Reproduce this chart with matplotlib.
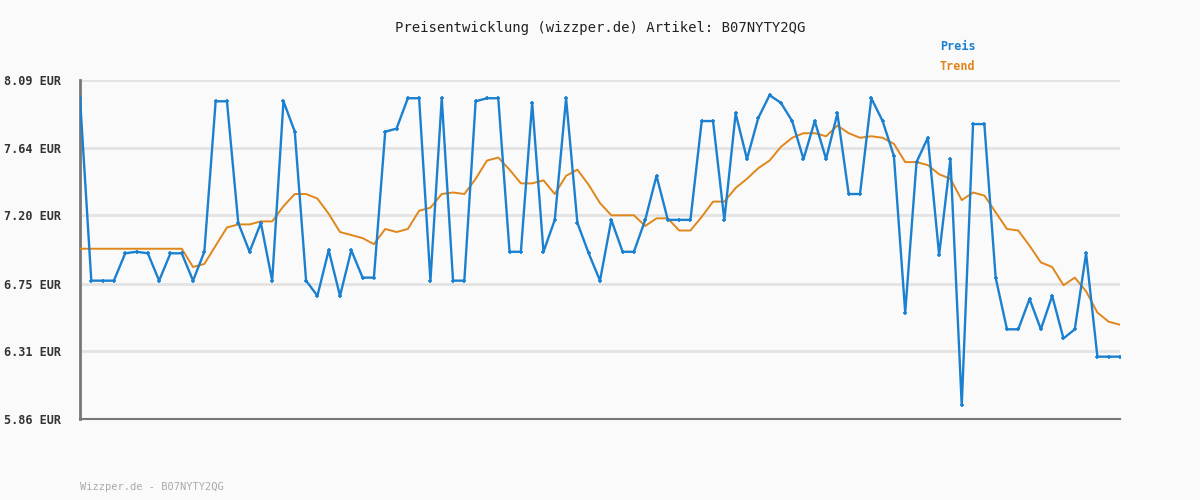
import matplotlib
matplotlib.use("Agg")
import matplotlib.pyplot as plt

# Preis / Trend values
preis = [7.97, 6.77, 6.77, 6.77, 6.95, 6.96, 6.95, 6.77, 6.95, 6.95,
         6.77, 6.96, 7.95, 7.95, 7.15, 6.96, 7.15, 6.77, 7.95, 7.75,
         6.77, 6.67, 6.97, 6.67, 6.97, 6.79, 6.79, 7.75, 7.77, 7.97,
         7.97, 6.77, 7.97, 6.77, 6.77, 7.95, 7.97, 7.97, 6.96, 6.96,
         7.94, 6.96, 7.17, 7.97, 7.15, 6.95, 6.77, 7.17, 6.96, 6.96,
         7.17, 7.46, 7.17, 7.17, 7.17, 7.82, 7.82, 7.17, 7.87, 7.57,
         7.84, 7.99, 7.94, 7.82, 7.57, 7.82, 7.57, 7.87, 7.34, 7.34,
         7.97, 7.82, 7.59, 6.56, 7.55, 7.71, 6.94, 7.57, 5.95, 7.80,
         7.80, 6.79, 6.45, 6.45, 6.65, 6.45, 6.67, 6.39, 6.45, 6.95,
         6.27, 6.27, 6.27]
trend = [6.98] * 10 + [
         6.86, 6.88, 7.00, 7.12, 7.14, 7.14, 7.16, 7.16, 7.26, 7.34,
         7.34, 7.31, 7.21, 7.09, 7.07, 7.05, 7.01, 7.11, 7.09, 7.11,
         7.23, 7.25, 7.34, 7.35, 7.34, 7.44, 7.56, 7.58, 7.50, 7.41,
         7.41, 7.43, 7.34, 7.46, 7.50, 7.40, 7.28, 7.20, 7.20, 7.20,
         7.13, 7.18, 7.18, 7.10, 7.10, 7.19, 7.29, 7.29, 7.38, 7.44,
         7.51, 7.56, 7.65, 7.71, 7.74, 7.74, 7.72, 7.79, 7.74, 7.71,
         7.72, 7.71, 7.67, 7.55, 7.55, 7.53, 7.47, 7.44, 7.30, 7.35,
         7.33, 7.22, 7.11, 7.10, 7.00, 6.89, 6.86, 6.74, 6.79, 6.70,
         6.56, 6.50, 6.48]
yticks = [5.86, 6.31, 6.75, 7.20, 7.64, 8.09]

blue = "#1a80cf"
orange = "#e0861a"
bg = "#fafafa"
mono = "DejaVu Sans Mono"

fig = plt.figure(figsize=(12, 5), dpi=100, facecolor=bg)
ax = fig.add_axes([80 / 1200, 1 - 419 / 500, 1040 / 1200, 339 / 500], facecolor=bg)

x = list(range(len(preis)))
ax.plot(x, trend, color=orange, lw=1.4, zorder=3)
ax.plot(x, preis, color=blue, lw=1.7, marker="+", ms=3, mew=1.2, zorder=4)

ax.set_xlim(0, len(preis) - 1)
ax.set_ylim(yticks[0], yticks[-1])
ax.set_yticks(yticks)
ax.set_yticklabels(["%.2f EUR" % v for v in yticks], fontfamily=mono,
                   fontsize=8.5, fontweight="bold", color="#333333")
ax.tick_params(axis="y", length=0, pad=14)
ax.set_xticks([])
ax.grid(axis="y", color="#e3e3e3", lw=2)
ax.set_axisbelow(True)
for s in ["top", "right"]:
    ax.spines[s].set_visible(False)
ax.spines["left"].set_color("#777777")
ax.spines["left"].set_linewidth(2)
ax.spines["bottom"].set_color("#777777")
ax.spines["bottom"].set_linewidth(1.5)

fig.text(0.5, 1 - 28 / 500, "Preisentwicklung (wizzper.de) Artikel: B07NYTY2QG",
         ha="center", va="center", fontfamily=mono, fontsize=10, color="#222222")
fig.text(940 / 1200, 1 - 46 / 500, "Preis", ha="left", va="center",
         fontfamily=mono, fontsize=8.5, fontweight="bold", color=blue)
fig.text(940 / 1200, 1 - 67 / 500, "Trend", ha="left", va="center",
         fontfamily=mono, fontsize=8.5, fontweight="bold", color=orange)
fig.text(80 / 1200, 1 - 487 / 500, "Wizzper.de - B07NYTY2QG", ha="left", va="center",
         fontfamily=mono, fontsize=7.5, color="#aaaaaa")

fig.savefig("out.png", dpi=100, facecolor=bg)
